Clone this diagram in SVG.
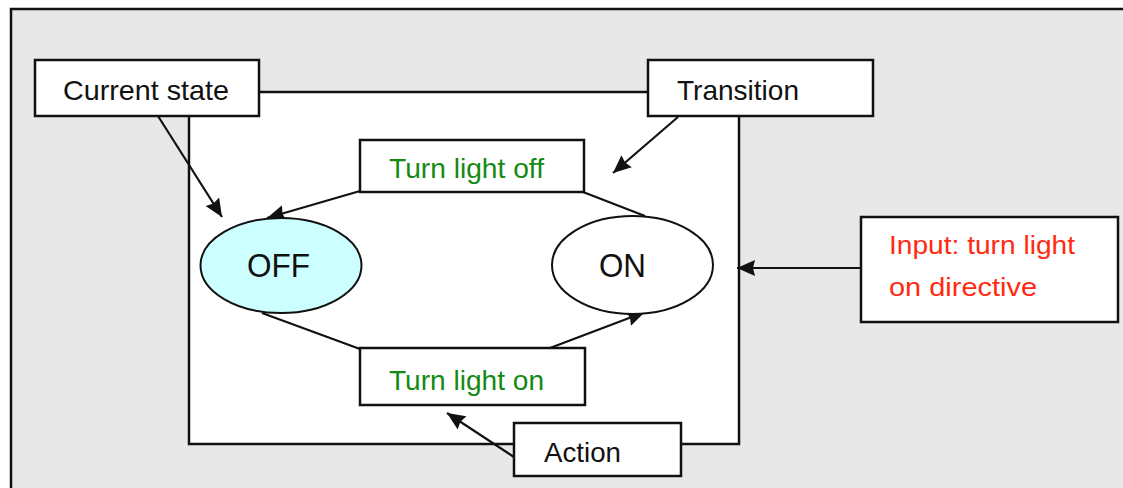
<svg xmlns="http://www.w3.org/2000/svg" width="1123" height="488" viewBox="0 0 1123 488">
  <style>
    .box { fill: #ffffff; stroke: #111111; stroke-width: 2.5; }
    .lbl { font-family: "Liberation Sans", Arial, sans-serif; font-size: 28px; fill: #111111; }
    .act { font-family: "Liberation Sans", Arial, sans-serif; font-size: 28px; fill: #148a14; }
    .inp { font-family: "Liberation Sans", Arial, sans-serif; font-size: 26px; fill: #ff2a10; }
    .st  { font-family: "Liberation Sans", Arial, sans-serif; font-size: 34px; fill: #111111; }
    .wire { fill: none; stroke: #111111; stroke-width: 2.2; }
  </style>
  <defs>
    <marker id="arrow" markerUnits="userSpaceOnUse" markerWidth="22" markerHeight="20" refX="18" refY="9" orient="auto">
      <path d="M0,1 L18,9 L0,17 L2,9 z" fill="#111111"/>
    </marker>
  </defs>

  <!-- page background and frame (only top and left edges fall inside the view) -->
  <rect x="0" y="0" width="1123" height="488" fill="#ffffff"/>
  <rect x="11" y="9" width="1112" height="479" fill="#e8e8e8"/>
  <path d="M11,488 V9 H1123" fill="none" stroke="#111111" stroke-width="2.5"/>

  <!-- state machine panel -->
  <rect id="panel" x="189" y="92" width="550" height="352" fill="#ffffff" stroke="#111111" stroke-width="2.5"/>

  <!-- connectors -->
  <g id="connectors">
    <line class="wire" x1="158" y1="116" x2="222" y2="217" marker-end="url(#arrow)"/>
    <line class="wire" x1="678" y1="117" x2="613" y2="173" marker-end="url(#arrow)"/>
    <line class="wire" x1="645" y1="216" x2="583" y2="192"/>
    <line class="wire" x1="360" y1="191" x2="267" y2="218" marker-end="url(#arrow)"/>
    <line class="wire" x1="262" y1="313" x2="360" y2="349"/>
    <line class="wire" x1="550" y1="348" x2="645" y2="312" marker-end="url(#arrow)"/>
    <line class="wire" x1="861" y1="268" x2="737" y2="268" marker-end="url(#arrow)"/>
    <line class="wire" x1="514" y1="457" x2="447" y2="413" marker-end="url(#arrow)"/>
  </g>

  <g id="current-state">
    <rect class="box" x="35" y="60" width="224" height="56"/>
    <text class="lbl" x="63" y="100" textLength="166" lengthAdjust="spacingAndGlyphs">Current state</text>
  </g>

  <g id="transition">
    <rect class="box" x="648" y="60" width="225" height="56"/>
    <text class="lbl" x="677" y="100" textLength="122" lengthAdjust="spacingAndGlyphs">Transition</text>
  </g>

  <g id="turn-light-off">
    <rect class="box" x="360" y="140" width="224" height="52"/>
    <text class="act" x="389" y="178" textLength="155" lengthAdjust="spacingAndGlyphs">Turn light off</text>
  </g>

  <g id="state-off">
    <ellipse cx="281" cy="265.5" rx="80.5" ry="47.5" fill="#ccffff" stroke="#111111" stroke-width="2"/>
    <text class="st" x="247" y="277" textLength="63" lengthAdjust="spacingAndGlyphs">OFF</text>
  </g>

  <g id="state-on">
    <ellipse cx="632.5" cy="265" rx="80.5" ry="49" fill="#ffffff" stroke="#111111" stroke-width="2"/>
    <text class="st" x="599" y="277" textLength="47" lengthAdjust="spacingAndGlyphs">ON</text>
  </g>

  <g id="input">
    <rect class="box" x="861" y="217" width="257" height="105"/>
    <text class="inp" x="889" y="254" textLength="186" lengthAdjust="spacingAndGlyphs">Input: turn light</text>
    <text class="inp" x="889" y="296" textLength="148" lengthAdjust="spacingAndGlyphs">on directive</text>
  </g>

  <g id="turn-light-on">
    <rect class="box" x="360" y="348" width="225" height="57"/>
    <text class="act" x="389" y="390" textLength="155" lengthAdjust="spacingAndGlyphs">Turn light on</text>
  </g>

  <g id="action">
    <rect class="box" x="514" y="423" width="167" height="53"/>
    <text class="lbl" x="544" y="462" textLength="77" lengthAdjust="spacingAndGlyphs">Action</text>
  </g>
</svg>
